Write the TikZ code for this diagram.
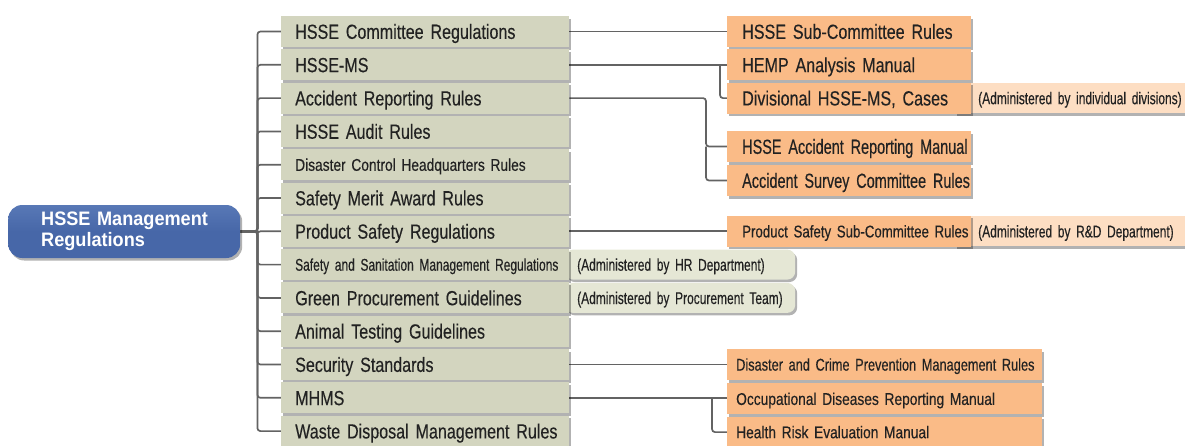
\documentclass[tikz,border=0pt]{standalone}
\usepackage{fontspec}
\setmainfont{Liberation Sans}
\newfontfamily\fA{Liberation Sans}[FakeStretch=0.785,WordSpace=0.7,FakeBold=0.3]
\newfontfamily\fN{Liberation Sans}[FakeStretch=0.705,WordSpace=0.7,FakeBold=0.3]
\newfontfamily\fB{Liberation Sans}[FakeStretch=0.81,WordSpace=0.7,FakeBold=0.3]
\newfontfamily\fE{Liberation Sans}[FakeStretch=0.78,WordSpace=0.7,FakeBold=0.3]
\newfontfamily\fD{Liberation Sans}[FakeStretch=0.75,WordSpace=0.7,FakeBold=0.3]
\newfontfamily\fC{Liberation Sans}[FakeStretch=0.705,WordSpace=0.7,FakeBold=0.3]
\newfontfamily\fM{Liberation Sans}[FakeStretch=0.93]
\usetikzlibrary{shadows,calc}
\definecolor{midfill}{HTML}{D3D5BF}
\definecolor{orfill}{HTML}{FABB87}
\definecolor{peach}{HTML}{FDDEC3}
\definecolor{grann}{HTML}{E5E7D5}
\definecolor{bluefill}{HTML}{4767A8}
\definecolor{bluetop}{HTML}{5878B6}
\definecolor{linecol}{HTML}{636363}
\definecolor{txt}{HTML}{222222}
\pgfdeclarelayer{bg}
\pgfsetlayers{bg,main}
\tikzset{
  shad/.style={drop shadow={shadow xshift=2pt,shadow yshift=-2.5pt,fill=black,opacity=0.3}},
  base/.style={shad,anchor=west,minimum height=31pt,inner ysep=0pt,align=left,text=txt,text depth=0pt},
  freg/.style={font=\fA\fontsize{20.5}{24}\selectfont,text height=14.7pt},
  fnar/.style={font=\fN\fontsize{20.5}{24}\selectfont,text height=14.7pt},
  fcmp/.style={font=\fB\fontsize{17}{20}\selectfont,text height=12.2pt},
  fpss/.style={font=\fE\fontsize{17}{20}\selectfont,text height=12.2pt},
  fdcr/.style={font=\fD\fontsize{17}{20}\selectfont,text height=12.2pt},
  fsml/.style={font=\fC\fontsize{17}{20}\selectfont,text height=12.2pt},
  midbox/.style={base,fill=midfill,inner xsep=14pt,text width=260pt,freg},
  orbox/.style={base,fill=orfill,inner xsep=15pt,text width=214pt,freg},
  orlow/.style={base,fill=orfill,inner xsep=9pt,text width=297pt,fcmp},
  peachbox/.style={base,fill=peach,inner xsep=23pt,text width=220pt,fsml,minimum height=30pt},
  greenbox/.style={base,fill=grann,rounded corners=8pt,inner xsep=12pt,text width=206pt,fsml,minimum height=30pt},
  mainbox/.style={shad,anchor=west,top color=bluetop,bottom color=bluefill,middle color=bluefill,rounded corners=14pt,minimum height=53pt,inner xsep=33pt,
    text width=166pt,align=left,text=white,font=\fM\bfseries\fontsize{19.5}{21}\selectfont},
  conn/.style={draw=linecol,line width=1.7pt,rounded corners=3pt}
}
\begin{document}
\begin{tikzpicture}[x=1pt,y=-1pt]
\useasboundingbox (0,0) rectangle (1185,445);
% annotation boxes (behind)
\node[peachbox] (a1) at (955,98.1) {\mbox{(Administered by individual divisions)}};
\node[peachbox] (a2) at (955,231.3) {\mbox{(Administered by R\&D Department)}};
\node[greenbox] (g1) at (565,264.6) {\mbox{(Administered by HR Department)}};
\node[greenbox] (g2) at (565,297.9) {\mbox{(Administered by Procurement Team)}};
% main node
\node[mainbox] (main) at (8,231.5) {\mbox{HSSE Management}\\Regulations};
% middle column
\node[midbox] (m0) at (281,31.5) {\mbox{HSSE Committee Regulations}};
\node[midbox] (m1) at (281,64.8) {\mbox{HSSE-MS}};
\node[midbox] (m2) at (281,98.1) {\mbox{Accident Reporting Rules}};
\node[midbox] (m3) at (281,131.4) {\mbox{HSSE Audit Rules}};
\node[midbox,fcmp] (m4) at (281,164.7) {\mbox{Disaster Control Headquarters Rules}};
\node[midbox] (m5) at (281,198.0) {\mbox{Safety Merit Award Rules}};
\node[midbox] (m6) at (281,231.3) {\mbox{Product Safety Regulations}};
\node[midbox,fsml] (m7) at (281,264.6) {\mbox{Safety and Sanitation Management Regulations}};
\node[midbox] (m8) at (281,297.9) {\mbox{Green Procurement Guidelines}};
\node[midbox] (m9) at (281,331.2) {\mbox{Animal Testing Guidelines}};
\node[midbox] (m10) at (281,364.5) {\mbox{Security Standards}};
\node[midbox] (m11) at (281,397.8) {\mbox{MHMS}};
\node[midbox] (m12) at (281,431.1) {\mbox{Waste Disposal Management Rules}};
% right column
\node[orbox] (o0) at (727,31.5) {\mbox{HSSE Sub-Committee Rules}};
\node[orbox] (o1) at (727,64.8) {\mbox{HEMP Analysis Manual}};
\node[orbox] (o2) at (727,98.1) {\mbox{Divisional HSSE-MS, Cases}};
\node[orbox,fnar] (o3) at (727,146.5) {\mbox{HSSE Accident Reporting Manual}};
\node[orbox,fnar] (o4) at (727,180.5) {\mbox{Accident Survey Committee Rules}};
\node[orbox,fpss] (o5) at (727,231.3) {\mbox{Product Safety Sub-Committee Rules}};
\node[orlow,fdcr] (o6) at (727,364.5) {\mbox{Disaster and Crime Prevention Management Rules}};
\node[orlow] (o7) at (727,398.8) {\mbox{Occupational Diseases Reporting Manual}};
\node[orlow] (o8) at (727,432.1) {\mbox{Health Risk Evaluation Manual}};
% connectors
\begin{pgfonlayer}{bg}
\foreach \k in {0,...,12}{
  \draw[conn] (main.east) -- ++(17,0) |- (m\k.west);
}
\draw[conn] (m0.east) -- (o0.west);
\draw[conn] (m1.east) -- (o1.west);
\draw[conn] ($(o1.west)+(-7,0)$) |- (o2.west);
\draw[conn] (m2.east) -| ($(o3.west)+(-21,0)$) -- (o3.west);
\draw[conn] ($(o3.west)+(-21,0)$) |- (o4.west);
\draw[conn] (m6.east) -- (o5.west);
\draw[conn] (m10.east) -- (o6.west);
\draw[conn] (m11.east) -- ($(m11.east -| o7.west)$);
\draw[conn] ($(m11.east -| o7.west)+(-15,0)$) |- (o8.west);
\end{pgfonlayer}
\end{tikzpicture}
\end{document}
